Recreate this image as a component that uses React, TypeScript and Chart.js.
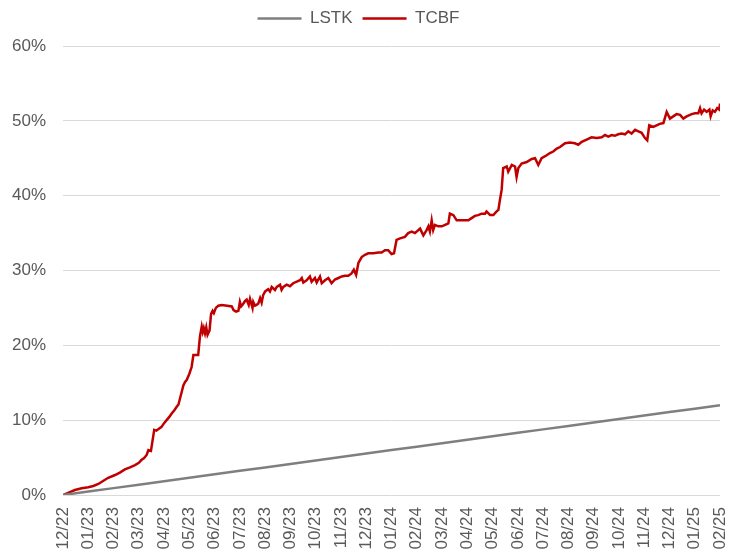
import React, { useEffect, useRef } from "react";
import { Chart, registerables } from "chart.js";

Chart.register(...registerables);

const monthLabels = [
  "12/22", "01/23", "02/23", "03/23", "04/23", "05/23", "06/23", "07/23", "08/23",
  "09/23", "10/23", "11/23", "12/23", "01/24", "02/24", "03/24", "04/24", "05/24",
  "06/24", "07/24", "08/24", "09/24", "10/24", "11/24", "12/24", "01/25", "02/25",
];

const yTicks = [0, 10, 20, 30, 40, 50, 60];

// LSTK: value at each month label (%)
const lstkValues = [
  0, 0.46, 0.92, 1.38, 1.85, 2.31, 2.77, 3.23, 3.69, 4.15, 4.62, 5.08, 5.54, 6.0,
  6.46, 6.92, 7.38, 7.85, 8.31, 8.77, 9.23, 9.69, 10.15, 10.62, 11.08, 11.54, 12.0,
];

// TCBF: position in months since 12/22, and value (%)
const tcbfMonths = [
  0, 0.25, 0.47, 0.74, 1.0, 1.2, 1.4, 1.6, 1.79, 2.06, 2.25, 2.45, 2.65, 2.85, 3.0, 3.11, 3.2, 3.31, 3.38, 3.48,
  3.61, 3.7, 3.77, 3.9, 4.0, 4.1, 4.2, 4.3, 4.4, 4.5, 4.57, 4.63, 4.7, 4.76, 4.83, 4.9, 5.0, 5.09, 5.16, 5.35,
  5.42, 5.49, 5.53, 5.57, 5.62, 5.67, 5.72, 5.8, 5.86, 5.92, 5.97, 6.05, 6.15, 6.28, 6.5, 6.68, 6.75, 6.85, 6.94, 7.0,
  7.05, 7.12, 7.2, 7.27, 7.35, 7.4, 7.5, 7.53, 7.6, 7.66, 7.73, 7.8, 7.86, 7.92, 8.0, 8.12, 8.19, 8.26, 8.39, 8.46,
  8.59, 8.65, 8.72, 8.85, 8.98, 9.11, 9.25, 9.38, 9.45, 9.51, 9.64, 9.77, 9.84, 9.97, 10.04, 10.17, 10.24, 10.37, 10.5, 10.63,
  10.76, 10.9, 11.03, 11.16, 11.29, 11.42, 11.51, 11.6, 11.69, 11.82, 11.95, 12.08, 12.28, 12.48, 12.61, 12.74, 12.87, 13.0, 13.1, 13.2,
  13.34, 13.53, 13.66, 13.8, 13.93, 14.13, 14.26, 14.39, 14.46, 14.52, 14.59, 14.65, 14.72, 14.85, 14.99, 15.12, 15.25, 15.31, 15.45, 15.58,
  15.78, 16.04, 16.17, 16.3, 16.43, 16.57, 16.7, 16.76, 16.9, 17.03, 17.16, 17.23, 17.29, 17.36, 17.42, 17.56, 17.62, 17.76, 17.89, 17.95,
  18.02, 18.15, 18.35, 18.55, 18.68, 18.81, 18.94, 19.14, 19.27, 19.4, 19.54, 19.67, 19.87, 20.06, 20.26, 20.39, 20.53, 20.72, 20.92, 21.12,
  21.32, 21.45, 21.58, 21.71, 21.84, 21.97, 22.11, 22.24, 22.37, 22.5, 22.64, 22.77, 22.9, 23.03, 23.12, 23.2, 23.36, 23.49, 23.62, 23.76,
  23.89, 24.02, 24.15, 24.28, 24.42, 24.55, 24.68, 24.88, 25.01, 25.14, 25.21, 25.27, 25.37, 25.47, 25.58, 25.63, 25.71, 25.8, 25.89, 25.97,
  26.0,
];

const tcbfValues = [
  0, 0.35, 0.67, 0.9, 1.03, 1.2, 1.47, 1.9, 2.3, 2.67, 3.0, 3.43, 3.7, 4.0, 4.3, 4.7, 4.9, 5.35, 6.0, 5.9,
  8.7, 8.6, 8.8, 9.1, 9.6, 10.0, 10.4, 10.9, 11.3, 11.8, 12.1, 12.9, 13.8, 14.6, 15.1, 15.4, 16.2, 17.1, 18.7, 18.7,
  21.2, 22.5, 21.8, 22.3, 21.6, 22.4, 21.4, 22.0, 24.2, 24.6, 24.3, 25.0, 25.3, 25.4, 25.3, 25.2, 24.7, 24.5, 24.6, 25.8,
  25.2, 25.5, 25.9, 26.1, 25.4, 26.2, 25.0, 25.8, 25.3, 25.4, 25.6, 26.3, 25.7, 26.7, 27.2, 27.5, 27.2, 27.8, 27.4, 27.8,
  28.1, 27.4, 27.8, 28.1, 27.9, 28.3, 28.5, 28.7, 29.0, 28.4, 28.7, 29.2, 28.5, 29.0, 28.4, 29.2, 28.3, 28.7, 29.0, 28.3,
  28.8, 29.0, 29.2, 29.3, 29.3, 29.6, 30.1, 29.4, 31.0, 31.8, 32.1, 32.3, 32.3, 32.4, 32.4, 32.7, 32.7, 32.2, 32.3, 34.1,
  34.3, 34.5, 35.0, 35.2, 35.0, 35.6, 34.7, 35.4, 35.9, 35.2, 36.7, 35.4, 36.1, 35.9, 35.9, 36.1, 36.3, 37.6, 37.4, 36.7,
  36.7, 36.7, 37.0, 37.3, 37.4, 37.6, 37.6, 37.9, 37.4, 37.4, 37.9, 38.1, 39.4, 40.8, 43.7, 43.9, 43.2, 44.1, 43.9, 42.5,
  43.7, 44.3, 44.5, 44.9, 45.0, 44.1, 45.0, 45.4, 45.7, 45.9, 46.3, 46.5, 47.0, 47.1, 47.0, 46.8, 47.2, 47.5, 47.8, 47.7,
  47.8, 48.1, 47.9, 48.1, 48.0, 48.2, 48.3, 48.2, 48.6, 48.3, 48.8, 48.6, 48.4, 47.7, 47.4, 49.4, 49.2, 49.4, 49.6, 49.7,
  51.2, 50.3, 50.6, 50.9, 50.8, 50.3, 50.6, 50.9, 51.0, 51.0, 51.7, 51.0, 51.5, 51.2, 51.5, 50.6, 51.4, 51.2, 51.7, 51.5,
  52.3,
];

const TEXT = "#595959";
const FONT = "'Liberation Sans', Arial, sans-serif";

const legendTweak = {
  id: "legendTweak",
  beforeInit(chart: any) {
    const legend = chart.legend;
    if (!legend) return;
    const origFit = legend.fit;
    legend.fit = function () {
      origFit.bind(legend)();
      legend.height += 9;
    };
  },
  afterLayout(chart: any) {
    const legend = chart.legend;
    if (!legend) return;
    legend.left -= 6;
    legend.right -= 6;
  },
};

export default function App() {
  const ref = useRef<HTMLCanvasElement | null>(null);

  useEffect(() => {
    if (!ref.current) return;
    const lstkData = lstkValues.map((v, i) => ({ x: i, y: v }));
    const tcbfData = tcbfMonths.map((m, i) => ({ x: m, y: tcbfValues[i] }));
    const chart = new Chart(ref.current, {
      type: "line",
      data: {
        datasets: [
          {
            label: "LSTK",
            data: lstkData,
            borderColor: "#7F7F7F",
            backgroundColor: "#7F7F7F",
            borderWidth: 2.5,
            pointRadius: 0,
            tension: 0,
          },
          {
            label: "TCBF",
            data: tcbfData,
            borderColor: "#C00000",
            backgroundColor: "#C00000",
            borderWidth: 2.5,
            pointRadius: 0,
            tension: 0,
          },
        ],
      },
      plugins: [legendTweak],
      options: {
        responsive: false,
        animation: false,
        devicePixelRatio: 1,
        layout: { padding: { left: 0, right: 0, top: 0, bottom: 0 } },
        plugins: {
          tooltip: { enabled: false },
          legend: {
            position: "top",
            labels: {
              usePointStyle: true,
              pointStyle: "line",
              pointStyleWidth: 44,
              padding: 10,
              color: TEXT,
              font: { family: FONT, size: 17 },
            },
          },
        },
        scales: {
          x: {
            type: "linear",
            min: 0,
            max: 26,
            grid: { display: false, drawTicks: false },
            border: { display: false },
            afterBuildTicks: (axis: any) => {
              axis.ticks = monthLabels.map((_, i) => ({ value: i }));
            },
            afterFit: (axis: any) => {
              axis.height = 57;
              axis.paddingLeft = 0;
              axis.paddingRight = 9;
            },
            ticks: {
              autoSkip: false,
              maxRotation: 90,
              minRotation: 90,
              padding: 12,
              color: TEXT,
              font: { family: FONT, size: 17 },
              callback: (v: any) => monthLabels[Number(v)] ?? "",
            },
          },
          y: {
            min: 0,
            max: 60,
            afterBuildTicks: (axis: any) => {
              axis.ticks = yTicks.map((v) => ({ value: v }));
            },
            afterFit: (axis: any) => {
              axis.width = 63;
            },
            grid: { color: "#D9D9D9", lineWidth: 1, drawTicks: false },
            border: { display: false },
            ticks: {
              padding: 17,
              color: TEXT,
              font: { family: FONT, size: 17 },
              callback: (v: any) => v + "%",
            },
          },
        },
      },
    });
    return () => chart.destroy();
  }, []);

  return (
    <div style={{ position: "absolute", left: 0, top: 0, width: 729, height: 552, background: "#fff" }}>
      <canvas ref={ref} width={729} height={552} />
    </div>
  );
}
